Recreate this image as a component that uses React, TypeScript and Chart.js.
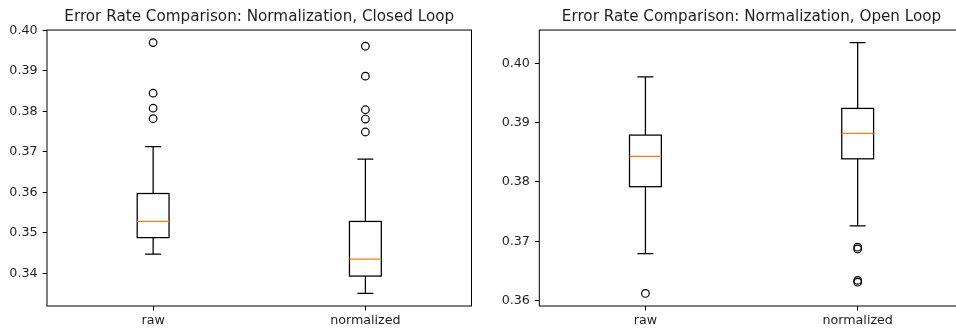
import React, { useEffect, useRef } from 'react';
import { Chart, registerables } from 'chart.js';

Chart.register(...registerables);

// ---- data ----
const categories = ['raw', 'normalized'];
const xPositions = [1, 2];

const closedTitle = 'Error Rate Comparison: Normalization, Closed Loop';
const closedLowerWhisker = [0.3447, 0.335];
const closedQ1 = [0.3488, 0.3393];
const closedMedian = [0.3528, 0.3435];
const closedQ3 = [0.3597, 0.3528];
const closedUpperWhisker = [0.3713, 0.3682];
const closedOutliersRaw = [0.397, 0.3845, 0.3808, 0.3782];
const closedOutliersNormalized = [0.3961, 0.3887, 0.3804, 0.3781, 0.3749];
const closedYTicks = [0.34, 0.35, 0.36, 0.37, 0.38, 0.39, 0.4];

const openTitle = 'Error Rate Comparison: Normalization, Open Loop';
const openLowerWhisker = [0.3679, 0.3726];
const openQ1 = [0.3792, 0.3839];
const openMedian = [0.3843, 0.3882];
const openQ3 = [0.3879, 0.3924];
const openUpperWhisker = [0.3977, 0.4035];
const openOutliersRaw = [0.3612];
const openOutliersNormalized = [0.369, 0.3687, 0.3634, 0.3631];
const openYTicks = [0.36, 0.37, 0.38, 0.39, 0.4];

const FONT = "'DejaVu Sans', sans-serif";
const TEXT = '#1e1e1e';

type Props = {
  title: string;
  low: number[];
  q1: number[];
  med: number[];
  q3: number[];
  high: number[];
  outliers: number[][];
  yTicks: number[];
  canvasLeft: number;
  canvasWidth: number;
  yAxisWidth: number;
  rightPad: number;
};

function BoxChart(p: Props) {
  const ref = useRef<HTMLCanvasElement | null>(null);

  useEffect(() => {
    if (!ref.current) return;
    const all = [...p.low, ...p.high, ...p.outliers.flat()];
    const dMin = Math.min(...all);
    const dMax = Math.max(...all);
    const margin = (dMax - dMin) * 0.05;

    const boxPlugin = {
      id: 'mplBoxes',
      afterDatasetsDraw(chart: any) {
        const { ctx, chartArea } = chart;
        const xs = chart.scales.x;
        const ys = chart.scales.y;
        ctx.save();
        ctx.beginPath();
        ctx.rect(chartArea.left, chartArea.top, chartArea.right - chartArea.left, chartArea.bottom - chartArea.top);
        ctx.clip();
        const line = (x1: number, y1: number, x2: number, y2: number) => {
          ctx.beginPath();
          ctx.moveTo(x1, y1);
          ctx.lineTo(x2, y2);
          ctx.stroke();
        };
        xPositions.forEach((pos, i) => {
          const xl = xs.getPixelForValue(pos - 0.075);
          const xr = xs.getPixelForValue(pos + 0.075);
          const xc = xs.getPixelForValue(pos);
          const cl = xs.getPixelForValue(pos - 0.0375);
          const cr = xs.getPixelForValue(pos + 0.0375);
          const yLo = ys.getPixelForValue(p.low[i]);
          const yQ1 = ys.getPixelForValue(p.q1[i]);
          const yMed = ys.getPixelForValue(p.med[i]);
          const yQ3 = ys.getPixelForValue(p.q3[i]);
          const yHi = ys.getPixelForValue(p.high[i]);
          ctx.strokeStyle = '#000';
          ctx.lineWidth = 1.27;
          ctx.strokeRect(xl, yQ3, xr - xl, yQ1 - yQ3);
          line(xc, yQ1, xc, yLo);
          line(xc, yQ3, xc, yHi);
          line(cl, yLo, cr, yLo);
          line(cl, yHi, cr, yHi);
          ctx.strokeStyle = '#ff7f0e';
          line(xl, yMed, xr, yMed);
        });
        ctx.restore();
      },
      afterDraw(chart: any) {
        const { ctx, chartArea } = chart;
        ctx.save();
        ctx.strokeStyle = '#000';
        ctx.lineWidth = 1;
        ctx.strokeRect(chartArea.left, chartArea.top, chartArea.right - chartArea.left, chartArea.bottom - chartArea.top);
        ctx.restore();
      },
    };

    const datasets = p.outliers.map((vals, i) => ({
      data: vals.map((v) => ({ x: xPositions[i], y: v })),
      pointRadius: 3.8,
      pointHoverRadius: 3.8,
      pointBorderWidth: 1.2,
      pointBorderColor: '#000',
      pointBackgroundColor: 'rgba(0,0,0,0)',
      showLine: false,
    }));

    const chart = new Chart(ref.current, {
      type: 'scatter',
      data: { datasets },
      plugins: [boxPlugin],
      options: {
        animation: false,
        responsive: false,
        devicePixelRatio: 1,
        events: [],
        layout: { padding: { left: 0, right: p.rightPad, top: 0, bottom: 0 } },
        plugins: {
          legend: { display: false },
          tooltip: { enabled: false },
          title: {
            display: true,
            text: p.title,
            fullSize: false,
            color: TEXT,
            font: { family: FONT, size: 15.2, weight: 'normal', lineHeight: 1.2 },
            padding: { top: 8, bottom: 3.8 },
          },
        },
        scales: {
          x: {
            type: 'linear',
            min: 0.5,
            max: 2.5,
            afterBuildTicks: (scale: any) => {
              scale.ticks = xPositions.map((v) => ({ value: v }));
            },
            afterFit: (scale: any) => {
              scale.height = 27;
            },
            ticks: {
              color: TEXT,
              font: { family: FONT, size: 12.7 },
              padding: 2.5,
              maxRotation: 0,
              autoSkip: false,
              callback: (v: any) => categories[Math.round(Number(v)) - 1] ?? '',
            },
            grid: {
              display: true,
              drawOnChartArea: false,
              drawTicks: true,
              tickLength: 4.4,
              tickWidth: 1,
              tickColor: '#000',
            },
            border: { display: false },
          },
          y: {
            type: 'linear',
            min: dMin - margin,
            max: dMax + margin,
            afterBuildTicks: (scale: any) => {
              scale.ticks = p.yTicks.map((v) => ({ value: v }));
            },
            afterFit: (scale: any) => {
              scale.width = p.yAxisWidth;
            },
            ticks: {
              color: TEXT,
              font: { family: FONT, size: 12.7 },
              padding: 5,
              autoSkip: false,
              callback: (v: any) => Number(v).toFixed(2),
            },
            grid: {
              display: true,
              drawOnChartArea: false,
              drawTicks: true,
              tickLength: 4.4,
              tickWidth: 1,
              tickColor: '#000',
            },
            border: { display: false },
          },
        },
      } as any,
    });
    return () => chart.destroy();
  }, []);

  return (
    <canvas
      ref={ref}
      width={p.canvasWidth}
      height={333}
      style={{ position: 'absolute', left: p.canvasLeft, top: 0, width: p.canvasWidth, height: 333 }}
    />
  );
}

export default function App() {
  return (
    <div
      style={{
        position: 'fixed',
        left: 0,
        top: 0,
        width: 956,
        height: 333,
        overflow: 'hidden',
        background: '#fff',
      }}
    >
      <BoxChart
        title={closedTitle}
        low={closedLowerWhisker}
        q1={closedQ1}
        med={closedMedian}
        q3={closedQ3}
        high={closedUpperWhisker}
        outliers={[closedOutliersRaw, closedOutliersNormalized]}
        yTicks={closedYTicks}
        canvasLeft={0}
        canvasWidth={478}
        yAxisWidth={47}
        rightPad={6.5}
      />
      <BoxChart
        title={openTitle}
        low={openLowerWhisker}
        q1={openQ1}
        med={openMedian}
        q3={openQ3}
        high={openUpperWhisker}
        outliers={[openOutliersRaw, openOutliersNormalized]}
        yTicks={openYTicks}
        canvasLeft={478}
        canvasWidth={492}
        yAxisWidth={61.3}
        rightPad={6.2}
      />
    </div>
  );
}
